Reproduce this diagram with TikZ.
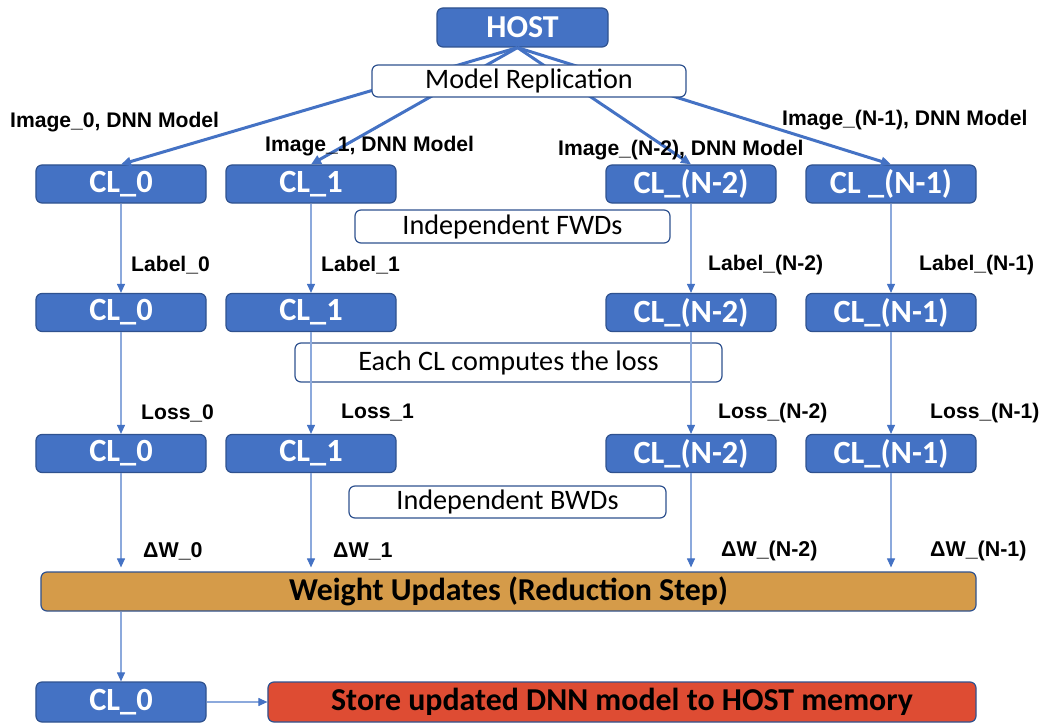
\documentclass[tikz,border=0pt]{standalone}
\usepackage{fontspec}
\setmainfont{Carlito}
\newfontfamily\lblfont{Liberation Sans}
\usetikzlibrary{arrows.meta}

\definecolor{clblue}{HTML}{4472C4}
\definecolor{clborder}{HTML}{2F528F}
\definecolor{reduce}{HTML}{D59B49}
\definecolor{storered}{HTML}{DE4C33}
\definecolor{thinline}{HTML}{8CA9DC}

\tikzset{
  clbox/.style={draw=clborder, line width=1.2bp, fill=clblue, rounded corners=6bp,
    minimum width=170bp, minimum height=38bp, inner sep=0pt, text=white,
    font=\fontsize{32.5}{34}\selectfont\bfseries},
  phase/.style={draw=clborder, line width=1.2bp, fill=white, rounded corners=6bp,
    minimum height=33bp, inner sep=0pt, font=\fontsize{28.3}{30}\selectfont},
  wide/.style={draw=clborder, line width=1.2bp, rounded corners=6bp,
    minimum height=39bp, inner sep=0pt, font=\fontsize{32}{34}\selectfont\bfseries},
  lbl/.style={anchor=west, inner sep=0pt, font=\lblfont\bfseries\fontsize{21.2}{23}\selectfont},
  dlbl/.style={anchor=west, inner sep=0pt, font=\lblfont\bfseries\fontsize{21.5}{23}\selectfont},
  feed/.style={line width=3bp, draw=clblue, -{Triangle[length=10bp,width=9bp]}},
  flow/.style={line width=1.1bp, draw=thinline, -{Triangle[length=9bp,width=8bp,color=clblue]}}
}

\begin{document}
\begin{tikzpicture}[x=1bp, y=-1bp]
\useasboundingbox (0,0) rectangle (1044,725);

% host and first row of compute lanes
\node[clbox, minimum width=171bp, minimum height=39bp, font=\fontsize{32}{34}\selectfont\bfseries] (host) at (522.5,27.5) {HOST};
\node[clbox] (c00) at (121,184) {CL\_0};
\node[clbox] (c01) at (311,184) {CL\_1};
\node[clbox] (c02) at (691,184) {CL\_(N-2)};
\node[clbox] (c03) at (891,184) {CL \_(N-1)};

% model distribution from the host
\coordinate (hub) at ([xshift=-5bp]host.south);
\draw[feed] (hub) -- (c00.north);
\draw[feed] (hub) -- (c01.north);
\draw[feed] (hub) -- (c02.north);
\draw[feed] (hub) -- (c03.north);
\node[phase, minimum width=314bp, minimum height=32bp] (repl) at (529,81) {Model Replication};

\node[lbl] (i0) at (10,122) {Image\_0, DNN Model};
\node[lbl] (i1) at (265,146) {Image\_1, DNN Model};
\node[lbl] (i2) at (558,150) {Image\_(N-2), DNN Model};
\node[lbl] (i3) at (782,120) {Image\_(N-1), DNN Model};

% second and third rows
\node[clbox] (c10) at (121,312.5) {CL\_0};
\node[clbox] (c11) at (311,312.5) {CL\_1};
\node[clbox] (c12) at (691,312.5) {CL\_(N-2)};
\node[clbox] (c13) at (891,312.5) {CL\_(N-1)};

\node[clbox] (c20) at (121,453.5) {CL\_0};
\node[clbox] (c21) at (311,453.5) {CL\_1};
\node[clbox] (c22) at (691,453.5) {CL\_(N-2)};
\node[clbox] (c23) at (891,453.5) {CL\_(N-1)};

% phase captions
\node[phase, minimum width=315bp] (fwd) at (512.5,226.5) {Independent FWDs};
\node[phase, minimum width=427bp, minimum height=39bp] (loss) at (508.5,362.5) {Each CL computes the loss};
\node[phase, minimum width=317bp, minimum height=32bp] (bwd) at (507.5,502) {Independent BWDs};

% reduction and final store
\node[wide, fill=reduce, minimum width=935bp] (wu) at (508.5,591.5) {Weight Updates (Reduction Step)};
\node[clbox, minimum height=40bp] (c30) at (121,702) {CL\_0};
\node[wide, fill=storered, minimum width=708bp, minimum height=40bp] (store) at (622,702) {Store updated DNN model to HOST memory};

% lane arrows
\draw[flow] (c00.south) -- (c10.north);
\draw[flow] (c01.south) -- (c11.north);
\draw[flow] (c02.south) -- (c12.north);
\draw[flow] (c03.south) -- (c13.north);

\draw[flow] (c10.south) -- (c20.north);
\draw[flow] (c11.south) -- (c21.north);
\draw[flow] (c12.south) -- (c22.north);
\draw[flow] (c13.south) -- (c23.north);

\draw[flow, shorten >=4bp] (c20.south) -- (c20.south |- wu.north);
\draw[flow, shorten >=4bp] (c21.south) -- (c21.south |- wu.north);
\draw[flow, shorten >=4bp] (c22.south) -- (c22.south |- wu.north);
\draw[flow, shorten >=4bp] (c23.south) -- (c23.south |- wu.north);

\draw[flow] (c30.north |- wu.south) -- (c30.north);
\draw[flow] (c30.east) -- (store.west);

% lane labels
\node[lbl] (l0) at (131,265) {Label\_0};
\node[lbl] (l1) at (321,265) {Label\_1};
\node[lbl] (l2) at (708,265) {Label\_(N-2)};
\node[lbl] (l3) at (919,265) {Label\_(N-1)};

\node[lbl] (s0) at (141,413) {Loss\_0};
\node[lbl] (s1) at (341,413) {Loss\_1};
\node[lbl] (s2) at (718,413) {Loss\_(N-2)};
\node[lbl] (s3) at (930,413) {Loss\_(N-1)};

\node[dlbl] (d0) at (143,551) {ΔW\_0};
\node[dlbl] (d1) at (333,551) {ΔW\_1};
\node[dlbl] (d2) at (721,551) {ΔW\_(N-2)};
\node[dlbl] (d3) at (930,551) {ΔW\_(N-1)};
\end{tikzpicture}
\end{document}
